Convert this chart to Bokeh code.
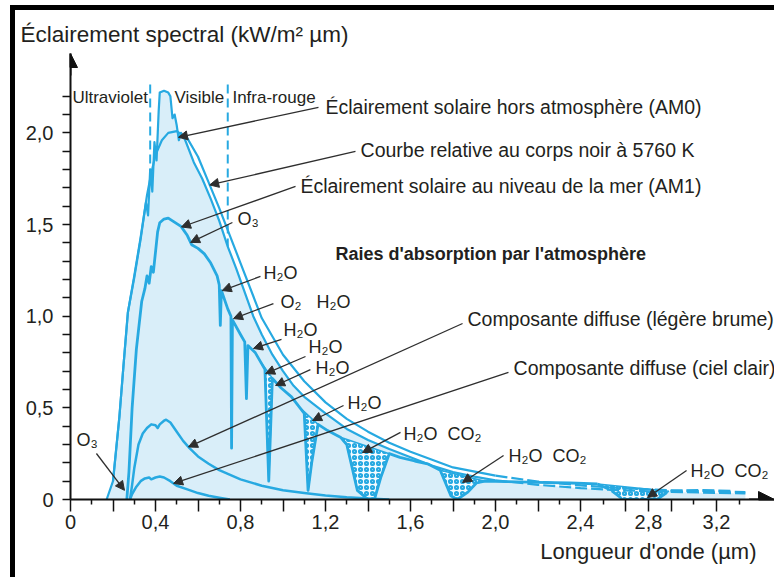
import numpy as np
from bokeh.plotting import figure
from bokeh.models import (Range1d, FixedTicker, Arrow, NormalHead, ColumnDataSource, Title)
from bokeh.core.properties import value
from bokeh.embed import file_html
from bokeh.resources import INLINE

# ---------------------------------------------------------------- data
# wavelength (µm) / spectral irradiance (kW/m² µm)
am0_wl = [0.17, 0.20, 0.23, 0.25, 0.27, 0.30, 0.33, 0.355, 0.365, 0.375, 0.385, 0.395, 0.405,
          0.415, 0.42, 0.44, 0.46, 0.47, 0.48, 0.49, 0.50, 0.51, 0.52, 0.54, 0.58, 0.62, 0.66,
          0.70, 0.74, 0.78, 0.82, 0.86, 0.90, 0.95, 1.00, 1.05, 1.10, 1.20, 1.30, 1.40, 1.50,
          1.60, 1.70, 1.80, 1.90, 2.00, 2.20, 2.40, 2.60, 2.80, 3.00, 3.20, 3.37]
am0_irr = [0.0, 0.10, 0.45, 0.74, 1.02, 1.21, 1.42, 1.62, 1.55, 1.80, 1.68, 1.95, 1.85,
           2.12, 2.22, 2.23, 2.22, 2.20, 2.08, 2.10, 2.04, 1.96, 2.00, 1.96, 1.84, 1.75, 1.64,
           1.52, 1.38, 1.26, 1.13, 1.00, 0.90, 0.79, 0.70, 0.62, 0.56, 0.47, 0.385, 0.325, 0.275,
           0.23, 0.185, 0.15, 0.125, 0.105, 0.08, 0.062, 0.052, 0.045, 0.040, 0.036, 0.033]

bb_wl = [0.20, 0.23, 0.25, 0.27, 0.30, 0.33, 0.36, 0.38, 0.40, 0.43, 0.46, 0.50, 0.55, 0.60,
         0.65, 0.70, 0.75, 0.80, 0.90, 1.00, 1.10, 1.20, 1.30, 1.40, 1.50, 1.60, 1.80, 2.00,
         2.20, 2.40, 2.60, 2.80, 3.00, 3.20, 3.37]
bb_irr = [0.10, 0.45, 0.74, 1.02, 1.22, 1.43, 1.66, 1.78, 1.88, 1.96, 2.00, 2.01, 1.97, 1.87,
          1.73, 1.59, 1.44, 1.29, 0.99, 0.79, 0.645, 0.53, 0.44, 0.37, 0.31, 0.26, 0.175, 0.13,
          0.098, 0.077, 0.064, 0.055, 0.048, 0.043, 0.04]

am1_wl = [0.265, 0.275, 0.29, 0.31, 0.335, 0.35, 0.36, 0.37, 0.38, 0.39, 0.40, 0.41, 0.42,
          0.44, 0.46, 0.48, 0.50, 0.52, 0.55, 0.57, 0.60, 0.63, 0.66, 0.69, 0.70, 0.705, 0.71,
          0.74, 0.755, 0.758, 0.762, 0.80, 0.82, 0.828, 0.835, 0.87, 0.90, 0.915, 0.933, 0.95,
          0.99, 1.04, 1.08, 1.10, 1.118, 1.135, 1.165, 1.21, 1.27, 1.30, 1.35, 1.40, 1.43,
          1.46, 1.50, 1.55, 1.62, 1.68, 1.74, 1.79, 1.82, 1.87, 1.91, 1.95, 2.05, 2.20, 2.35,
          2.50, 2.58, 2.65, 2.85, 2.92, 3.10, 3.30]
am1_irr = [0.0, 0.15, 0.50, 0.82, 1.08, 1.15, 1.22, 1.18, 1.27, 1.24, 1.35, 1.46, 1.51,
           1.53, 1.535, 1.52, 1.505, 1.49, 1.44, 1.39, 1.37, 1.34, 1.29, 1.22, 1.17, 0.95, 1.14,
           1.04, 1.00, 0.28, 0.98, 0.90, 0.86, 0.55, 0.84, 0.80, 0.74, 0.71, 0.10, 0.66,
           0.61, 0.56, 0.50, 0.47, 0.05, 0.20, 0.41, 0.376, 0.34, 0.30, 0.05, 0.0, 0.0,
           0.12, 0.25, 0.23, 0.21, 0.195, 0.16, 0.02, 0.0, 0.04, 0.09, 0.10, 0.098, 0.093, 0.09,
           0.085, 0.05, 0.0, 0.0, 0.045, 0.05, 0.045]

haze_wl = [0.28, 0.29, 0.30, 0.32, 0.34, 0.36, 0.38, 0.40, 0.41, 0.42, 0.44, 0.45, 0.47, 0.50,
           0.53, 0.56, 0.60, 0.65, 0.70, 0.80, 0.90, 1.00, 1.10, 1.20, 1.30, 1.40, 1.50]
haze_irr = [0.0, 0.08, 0.17, 0.30, 0.36, 0.39, 0.41, 0.405, 0.39, 0.41, 0.43, 0.435, 0.42, 0.37,
            0.32, 0.28, 0.235, 0.195, 0.16, 0.11, 0.075, 0.05, 0.035, 0.022, 0.012, 0.005, 0.0]

clear_wl = [0.28, 0.29, 0.31, 0.33, 0.35, 0.37, 0.38, 0.40, 0.42, 0.44, 0.47, 0.50, 0.55, 0.60,
            0.65, 0.70, 0.75]
clear_irr = [0.0, 0.03, 0.07, 0.10, 0.115, 0.12, 0.11, 0.12, 0.125, 0.12, 0.10, 0.075, 0.055,
             0.035, 0.02, 0.01, 0.0]

# absorption bands (µm) drawn stippled
absorption_bands = [(0.895, 0.955), (1.08, 1.165), (1.27, 1.50), (1.74, 1.95), (2.50, 2.92)]

# spectral region limits (µm)
region_limits = [0.375, 0.74]

# axes
y_major = [0.0, 0.5, 1.0, 1.5, 2.0]
y_labels = ["0", "0,5", "1,0", "1,5", "2,0"]
y_minor = [0.1, 0.2, 0.3, 0.4, 0.6, 0.7, 0.8, 0.9, 1.1, 1.2, 1.3, 1.4, 1.6, 1.7, 1.8, 1.9,
           2.1, 2.2]
x_long = [0.0, 0.2, 0.4, 0.6, 0.8, 1.0, 1.2, 1.4, 1.6, 1.8, 2.0, 2.2, 2.4, 2.6667, 2.8,
          2.9333, 3.2]
x_short = [0.1, 0.3, 0.5, 0.7, 0.9, 1.1, 1.3, 1.5, 1.7, 1.9, 2.1, 2.3, 2.5333, 3.0667, 3.3333]
x_labelled = [0.0, 0.4, 0.8, 1.2, 1.6, 2.0, 2.4, 2.8, 3.2]
x_labels = ["0", "0,4", "0,8", "1,2", "1,6", "2,0", "2,4", "2,8", "3,2"]

# ---------------------------------------------------------------- helpers
BREAK = 2.4      # the wavelength axis is compressed beyond 2.4 µm
SQUEEZE = 0.8


def to_d(w):
    w = np.asarray(w, dtype=float)
    return np.where(w <= BREAK, w, BREAK + SQUEEZE * (w - BREAK))


def on_curve(w, cw, cy):
    return float(np.interp(w, cw, cy))


BLUE = "#27a9e1"
FILL = "#d9eef9"
INK = "#231f20"
FONT = "Liberation Sans"
NB = "\u00a0"

x_end = (774 - 70) / 212.5
y_end = 446 / 183.3

p = figure(width=759, height=567, x_range=Range1d(0, x_end), y_range=Range1d(0, y_end),
           output_backend="svg", toolbar_location=None,
           min_border_left=55, min_border_right=0, min_border_top=43, min_border_bottom=78,
           background_fill_color="white", border_fill_color="white")
# page frame: black rules along the left and top edges, cast as shadows of the plot box
p.styles = {"position": "relative", "left": "15px", "top": "10px",
            "box-shadow": "-5px 0 0 0 #000, 0 -5px 0 0 #000, -5px -5px 0 0 #000"}
p.grid.visible = False
p.outline_line_color = None

# title / axis captions
p.title.text = "Éclairement spectral (kW/m² µm)"
p.title.align = "left"
p.title.offset = -50
p.title.standoff = 14
p.title.text_font = FONT
p.title.text_font_size = "22.5px"
p.title.text_font_style = "normal"
p.title.text_color = INK

p.add_layout(Title(text="Longueur d'onde (µm)", align="right", offset=18,
                   text_font=FONT, text_font_size="22px", text_font_style="normal",
                   text_color=INK), "below")

# axes
for ax in (p.xaxis, p.yaxis):
    ax.axis_line_width = 2
    ax.axis_line_color = "#111111"
    ax.major_tick_line_color = "#111111"
    ax.minor_tick_line_color = "#111111"
    ax.major_tick_line_width = 1.5
    ax.minor_tick_line_width = 1.5
    ax.major_tick_in = 0
    ax.minor_tick_in = 0
    ax.major_label_text_font = FONT
    ax.major_label_text_font_size = "20px"
    ax.major_label_text_color = INK

x_major_d = [round(float(v), 5) for v in to_d(x_long)]
x_minor_d = [round(float(v), 5) for v in to_d(x_short)]
p.xaxis.ticker = FixedTicker(ticks=x_major_d, minor_ticks=x_minor_d)
overrides = {t: "" for t in x_major_d}
for w, lab in zip(x_labelled, x_labels):
    overrides[round(float(to_d(w)), 5)] = lab
p.xaxis.major_label_overrides = overrides
p.xaxis.major_tick_out = 12
p.xaxis.minor_tick_out = 5
p.xaxis.major_label_standoff = 3

p.yaxis.ticker = FixedTicker(ticks=y_major, minor_ticks=y_minor)
p.yaxis.major_label_overrides = dict(zip(y_major, y_labels))
p.yaxis.major_tick_out = 8
p.yaxis.minor_tick_out = 8
p.yaxis.major_label_standoff = 9

# axis arrow heads
p.add_layout(Arrow(end=NormalHead(size=14, fill_color="#111111", line_color="#111111"),
                   x_start=0, y_start=y_end - 0.12, x_end=0, y_end=y_end,
                   line_color="#111111", line_width=2))
p.add_layout(Arrow(end=NormalHead(size=16, fill_color="#111111", line_color="#111111"),
                   x_start=x_end - 0.12, y_start=0, x_end=x_end, y_end=0,
                   line_color="#111111", line_width=2))

# spectral region limits (under the fill)
for w in region_limits:
    p.line(x=[w, w], y=[0, 2.29], line_color=BLUE, line_width=2, line_dash="9 5")

# area under the extraterrestrial spectrum
p.varea(x=to_d(am0_wl), y1=0, y2=am0_irr, fill_color=FILL)

# stippled absorption bands under the sea-level curve
am1_w = np.array(am1_wl)
am1_y = np.array(am1_irr)
bx, by = [], []
for lo, hi in absorption_bands:
    inner = (am1_w > lo) & (am1_w < hi)
    xs = np.concatenate([[lo], am1_w[inner], [hi]])
    ys = np.concatenate([[np.interp(lo, am1_w, am1_y)], am1_y[inner],
                         [np.interp(hi, am1_w, am1_y)]])
    bx.append(to_d(xs))
    by.append(ys)
p.patches(xs=bx, ys=by, fill_color="#f4fbff", line_color=BLUE, line_width=1.5,
          hatch_pattern="o", hatch_color=BLUE, hatch_scale=6, hatch_weight=2.2)


def draw_curve(wl, irr, width, dash_from=None):
    wl = np.asarray(wl)
    irr = np.asarray(irr)
    if dash_from is None:
        p.line(to_d(wl), irr, line_color=BLUE, line_width=width, line_join="round")
        return
    solid = wl <= dash_from
    p.line(to_d(wl[solid]), irr[solid], line_color=BLUE, line_width=width, line_join="round")
    k = max(int(solid.sum()) - 1, 0)
    p.line(to_d(wl[k:]), irr[k:], line_color=BLUE, line_width=width, line_dash="12 4")


draw_curve(bb_wl, bb_irr, 2.2, dash_from=2.0)
draw_curve(am0_wl, am0_irr, 2.2, dash_from=2.0)
draw_curve(am1_wl, am1_irr, 2.8, dash_from=2.5)
draw_curve(haze_wl, haze_irr, 2.5)
draw_curve(clear_wl, clear_irr, 2.5)


# ---------------------------------------------------------------- labels
def add_text(items, size, style="normal"):
    src = ColumnDataSource(dict(x=[float(to_d(i[1])) for i in items],
                                y=[i[2] for i in items],
                                t=[i[0] for i in items]))
    p.text(x="x", y="y", text="t", source=src, text_font=value(FONT),
           text_font_size=value(size), text_font_style=style, text_color=INK,
           text_align="left", text_baseline="middle")


add_text([("Éclairement solaire hors atmosphère (AM0)", 1.200, 2.144),
          ("Courbe relative au corps noir à 5760 K", 1.365, 1.904),
          ("Éclairement solaire au niveau de la mer (AM1)", 1.082, 1.713),
          ("Composante diffuse (légère brume)", 1.868, 0.987),
          ("Composante diffuse (ciel clair)", 2.085, 0.715)], "19.5px")
add_text([("O₃", 0.786, 1.528), ("H₂O", 0.908, 1.233), ("O₂" + NB * 3 + "H₂O", 0.988, 1.080),
          ("H₂O", 1.002, 0.927), ("H₂O", 1.120, 0.830), ("H₂O", 1.153, 0.720),
          ("H₂O", 1.304, 0.529), ("H₂O" + NB * 2 + "CO₂", 1.567, 0.360),
          ("H₂O" + NB * 2 + "CO₂", 2.061, 0.240),
          ("H₂O" + NB * 2 + "CO₂", 3.047, 0.158), ("O₃", 0.028, 0.322)], "18px")
add_text([("Ultraviolet", 0.009, 2.193), ("Visible", 0.489, 2.193),
          ("Infra-rouge", 0.762, 2.193)], "17px")
add_text([("Raies d'absorption par l'atmosphère", 1.247, 1.342)], "18px", "bold")

# pointers: start (µm, kW) -> target (µm, kW)
pointers = [
    ((1.167, 2.139), (0.508, on_curve(0.508, am0_wl, am0_irr))),
    ((1.341, 1.899), (0.655, on_curve(0.655, bb_wl, bb_irr))),
    ((1.059, 1.708), (0.522, on_curve(0.522, am1_wl, am1_irr))),
    ((0.762, 1.511), (0.565, on_curve(0.565, am1_wl, am1_irr))),
    ((0.894, 1.217), (0.714, 1.14)),
    ((0.955, 1.069), (0.767, 0.987)),
    ((0.993, 0.873), (0.861, 0.824)),
    ((1.106, 0.780), (0.918, 0.687)),
    ((1.129, 0.709), (0.965, 0.622)),
    ((1.285, 0.513), (1.139, 0.431)),
    ((1.553, 0.366), (1.374, 0.256)),
    ((2.038, 0.240), (1.845, 0.093)),
    ((3.024, 0.158), (2.794, 0.011)),
    ((1.845, 0.960), (0.555, on_curve(0.555, haze_wl, haze_irr))),
    ((2.061, 0.693), (0.485, on_curve(0.485, clear_wl, clear_irr))),
    ((0.122, 0.251), (0.254, 0.05)),
]
asrc = ColumnDataSource(dict(
    x0=[float(to_d(s[0])) for s, _ in pointers], y0=[s[1] for s, _ in pointers],
    x1=[float(to_d(e[0])) for _, e in pointers], y1=[e[1] for _, e in pointers]))
p.add_layout(Arrow(source=asrc, x_start="x0", y_start="y0", x_end="x1", y_end="y1",
                   line_color="#2e2e2e", line_width=1.3,
                   end=NormalHead(size=9, fill_color="#2e2e2e", line_color="#2e2e2e")))

open("out.html", "w").write(file_html(p, INLINE))
